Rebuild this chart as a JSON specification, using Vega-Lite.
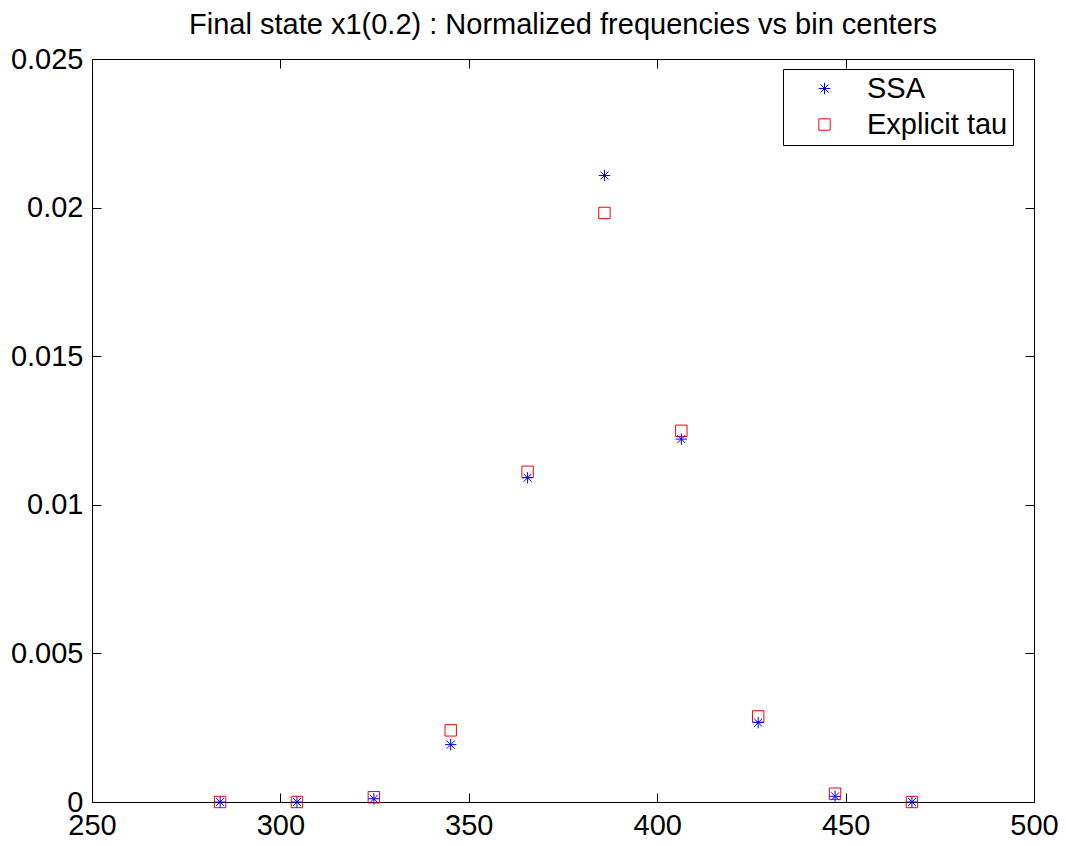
{
  "$schema": "https://vega.github.io/schema/vega-lite/v6.json",
  "autosize": "none",
  "width": 942,
  "height": 743,
  "padding": {"left": 92, "top": 59, "right": 32, "bottom": 44},
  "background": "white",
  "config": {
    "font": "Liberation Sans",
    "view": {"stroke": "black", "strokeWidth": 1},
    "axis": {"grid": false, "domainColor": "black", "tickColor": "black", "labelColor": "black", "labelFontSize": 29, "tickSize": -9, "labelFont": "Liberation Sans"}
  },
  "title": {"text": "Final state x1(0.2) : Normalized frequencies vs bin centers", "fontSize": 29, "fontWeight": "normal", "font": "Liberation Sans", "color": "black", "anchor": "middle", "offset": 5},
  "data": {"values": [
    {"bin": 284.0, "freq": 0.0, "method": "Explicit tau"},
    {"bin": 304.4, "freq": 0.0, "method": "Explicit tau"},
    {"bin": 324.8, "freq": 0.00016, "method": "Explicit tau"},
    {"bin": 345.2, "freq": 0.00241, "method": "Explicit tau"},
    {"bin": 365.6, "freq": 0.01111, "method": "Explicit tau"},
    {"bin": 386.0, "freq": 0.01982, "method": "Explicit tau"},
    {"bin": 406.4, "freq": 0.01249, "method": "Explicit tau"},
    {"bin": 426.8, "freq": 0.00288, "method": "Explicit tau"},
    {"bin": 447.2, "freq": 0.00028, "method": "Explicit tau"},
    {"bin": 467.6, "freq": 0.0, "method": "Explicit tau"},
    {"bin": 284.0, "freq": 0.0, "method": "SSA"},
    {"bin": 304.4, "freq": 0.0, "method": "SSA"},
    {"bin": 324.8, "freq": 0.00011, "method": "SSA"},
    {"bin": 345.2, "freq": 0.00193, "method": "SSA"},
    {"bin": 365.6, "freq": 0.01091, "method": "SSA"},
    {"bin": 386.0, "freq": 0.02108, "method": "SSA"},
    {"bin": 406.4, "freq": 0.01221, "method": "SSA"},
    {"bin": 426.8, "freq": 0.00267, "method": "SSA"},
    {"bin": 447.2, "freq": 0.00019, "method": "SSA"},
    {"bin": 467.6, "freq": 0.0, "method": "SSA"}
  ]},
  "layer": [
    {
      "mark": {"type": "point", "filled": false, "strokeWidth": 1, "opacity": 1},
      "encoding": {
        "x": {"field": "bin", "type": "quantitative", "scale": {"domain": [250, 500], "nice": false, "zero": false}, "axis": {"title": null, "values": [250, 300, 350, 400, 450, 500], "labelPadding": 18, "labelFlush": false}},
        "y": {"field": "freq", "type": "quantitative", "scale": {"domain": [0, 0.025], "nice": false}, "axis": {"title": null, "values": [0, 0.005, 0.01, 0.015, 0.02, 0.025], "format": "~g", "labelPadding": 18}},
        "color": {"field": "method", "type": "nominal", "scale": {"domain": ["SSA", "Explicit tau"], "range": ["#0000ff", "#ff0000"]},
          "legend": {"title": null, "orient": "none", "legendX": 691, "legendY": 10, "direction": "vertical", "strokeColor": "black", "fillColor": "white", "padding": 5, "labelFontSize": 29, "labelColor": "black", "labelFont": "Liberation Sans", "symbolStrokeWidth": 1, "symbolSize": 130, "symbolOffset": 22, "labelOffset": 28, "rowPadding": 6, "labelLimit": 300}},
        "shape": {"field": "method", "type": "nominal", "scale": {"domain": ["SSA", "Explicit tau"], "range": ["M-1,0L1,0M0,-1L0,1M-0.7,-0.7L0.7,0.7M-0.7,0.7L0.7,-0.7", "square"]}},
        "size": {"value": 130}
      }
    },
    {
      "mark": {"type": "point", "opacity": 0},
      "encoding": {
        "x": {"field": "bin", "type": "quantitative", "scale": {"domain": [250, 500], "nice": false, "zero": false}, "axis": {"orient": "top", "title": null, "labels": false, "values": [250, 300, 350, 400, 450, 500]}},
        "y": {"field": "freq", "type": "quantitative", "scale": {"domain": [0, 0.025], "nice": false}, "axis": {"orient": "right", "title": null, "labels": false, "values": [0, 0.005, 0.01, 0.015, 0.02, 0.025]}}
      }
    }
  ],
  "resolve": {"axis": {"x": "independent", "y": "independent"}}
}
